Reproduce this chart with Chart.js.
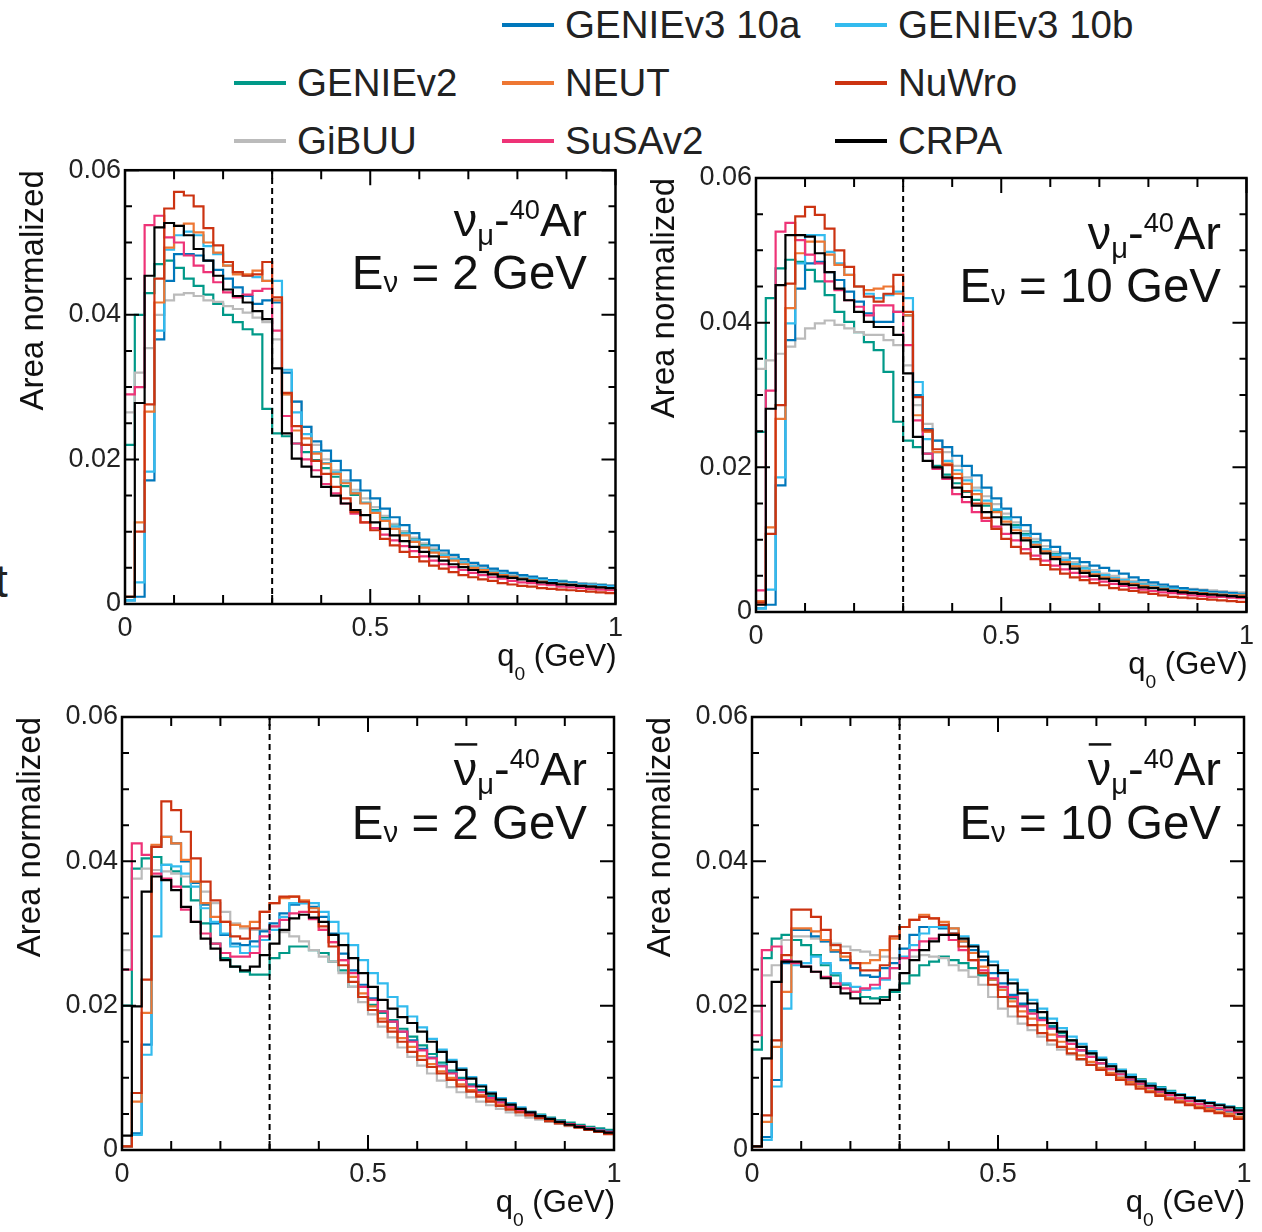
<!DOCTYPE html>
<html>
<head>
<meta charset="utf-8">
<script src="https://cdn.jsdelivr.net/npm/chart.js@4.4.1/dist/chart.umd.min.js"></script>
<style>
  body { margin: 0; background: #fff; width: 1262px; height: 1232px; position: relative; overflow: hidden;
         font-family: "Liberation Sans", Arial, sans-serif; }
  canvas { position: absolute; }
  .leg { position: absolute; height: 40px; display: flex; align-items: center; font-size: 38.5px; color: #222; white-space: nowrap; }
  .leg i { display: block; width: 52px; height: 4px; margin-right: 11px; }
  .cut { position: absolute; left: -5px; top: 558px; font-size: 46px; line-height: 1; color: #222; }
</style>
</head>
<body>
<div id="legend"></div>
<div class="cut">t</div>
<canvas id="c1" width="631" height="540" style="left:0;top:150px"></canvas>
<canvas id="c2" width="631" height="540" style="left:631px;top:150px"></canvas>
<canvas id="c3" width="631" height="542" style="left:0;top:690px"></canvas>
<canvas id="c4" width="631" height="542" style="left:631px;top:690px"></canvas>
<script>
// bin edges of q0 (GeV), 50 bins
const binEdges = [0, 0.02, 0.04, 0.06, 0.08, 0.1, 0.12, 0.14, 0.16, 0.18, 0.2, 0.22, 0.24, 0.26, 0.28, 0.3,
  0.32, 0.34, 0.36, 0.38, 0.4, 0.42, 0.44, 0.46, 0.48, 0.5, 0.52, 0.54, 0.56, 0.58, 0.6, 0.62, 0.64, 0.66,
  0.68, 0.7, 0.72, 0.74, 0.76, 0.78, 0.8, 0.82, 0.84, 0.86, 0.88, 0.9, 0.92, 0.94, 0.96, 0.98, 1];
const yTickLabels = [0, 0.02, 0.04, 0.06];
const xTickLabels = [0, 0.5, 1];
const yMinorTicks = [0, 0.005, 0.01, 0.015, 0.02, 0.025, 0.03, 0.035, 0.04, 0.045, 0.05, 0.055, 0.06];
const xMinorTicks = [0, 0.1, 0.2, 0.3, 0.4, 0.5, 0.6, 0.7, 0.8, 0.9, 1];
const qCut = 0.3;

// drawing order: first one ends up on top
const seriesNames = ['CRPA', 'NuWro', 'SuSAv2', 'NEUT', 'GENIEv3 10b', 'GENIEv3 10a', 'GiBUU', 'GENIEv2'];
const seriesColors = ['#000000', '#CC3311', '#EE3377', '#EE7733', '#33BBEE', '#0077BB', '#BBBBBB', '#009988'];

// nu_mu - 40Ar, E = 2 GeV
const nu2_CRPA = [0.0010, 0.0278, 0.0454, 0.0521, 0.0527, 0.0523, 0.0510, 0.0491, 0.0475, 0.0454, 0.0435, 0.0426, 0.0417, 0.0405, 0.0394, 0.0326, 0.0236, 0.0201, 0.0190, 0.0176, 0.0162, 0.0150, 0.0139, 0.0130,
  0.0123, 0.0113, 0.0104, 0.0095, 0.0087, 0.0079, 0.0072, 0.0066, 0.0060, 0.0055, 0.0051, 0.0047, 0.0044, 0.0041, 0.0038, 0.0036, 0.0034, 0.0032, 0.0030, 0.0029, 0.0027, 0.0026, 0.0025, 0.0024, 0.0023, 0.0022];
const nu2_NuWro = [0.0010, 0.0100, 0.0276, 0.0450, 0.0547, 0.0570, 0.0565, 0.0550, 0.0520, 0.0496, 0.0473, 0.0459, 0.0454, 0.0456, 0.0473, 0.0424, 0.0292, 0.0246, 0.0220, 0.0198, 0.0180, 0.0162, 0.0146, 0.0127,
  0.0113, 0.0102, 0.0090, 0.0081, 0.0072, 0.0065, 0.0059, 0.0053, 0.0049, 0.0044, 0.0040, 0.0037, 0.0034, 0.0032, 0.0029, 0.0027, 0.0025, 0.0024, 0.0022, 0.0021, 0.0020, 0.0019, 0.0018, 0.0017, 0.0016, 0.0015];
const nu2_SuSAv2 = [0.0290, 0.0300, 0.0524, 0.0537, 0.0507, 0.0500, 0.0482, 0.0468, 0.0459, 0.0445, 0.0431, 0.0424, 0.0428, 0.0433, 0.0436, 0.0378, 0.0260, 0.0222, 0.0200, 0.0185, 0.0166, 0.0153, 0.0139, 0.0125,
  0.0113, 0.0105, 0.0096, 0.0088, 0.0080, 0.0073, 0.0066, 0.0060, 0.0055, 0.0051, 0.0047, 0.0043, 0.0040, 0.0037, 0.0035, 0.0032, 0.0030, 0.0029, 0.0027, 0.0026, 0.0024, 0.0023, 0.0022, 0.0021, 0.0020, 0.0019];
const nu2_NEUT = [0.0010, 0.0113, 0.0266, 0.0417, 0.0493, 0.0523, 0.0526, 0.0514, 0.0500, 0.0486, 0.0468, 0.0456, 0.0456, 0.0461, 0.0447, 0.0420, 0.0290, 0.0240, 0.0229, 0.0208, 0.0194, 0.0180, 0.0167, 0.0153,
  0.0139, 0.0126, 0.0115, 0.0104, 0.0095, 0.0086, 0.0078, 0.0071, 0.0065, 0.0060, 0.0055, 0.0050, 0.0047, 0.0043, 0.0040, 0.0038, 0.0035, 0.0033, 0.0031, 0.0029, 0.0028, 0.0027, 0.0025, 0.0024, 0.0023, 0.0022];
const nu2_G3b = [0.0005, 0.0030, 0.0183, 0.0378, 0.0490, 0.0510, 0.0515, 0.0510, 0.0495, 0.0484, 0.0468, 0.0459, 0.0454, 0.0452, 0.0447, 0.0447, 0.0324, 0.0265, 0.0235, 0.0210, 0.0195, 0.0182, 0.0168, 0.0154,
  0.0140, 0.0128, 0.0117, 0.0107, 0.0097, 0.0088, 0.0080, 0.0073, 0.0067, 0.0062, 0.0057, 0.0052, 0.0048, 0.0045, 0.0042, 0.0039, 0.0037, 0.0035, 0.0033, 0.0031, 0.0029, 0.0028, 0.0027, 0.0026, 0.0025, 0.0024];
const nu2_G3a = [0.0005, 0.0010, 0.0171, 0.0366, 0.0447, 0.0484, 0.0484, 0.0482, 0.0475, 0.0462, 0.0450, 0.0438, 0.0426, 0.0415, 0.0420, 0.0417, 0.0320, 0.0280, 0.0245, 0.0225, 0.0212, 0.0198, 0.0185, 0.0171,
  0.0157, 0.0146, 0.0132, 0.0120, 0.0109, 0.0098, 0.0089, 0.0081, 0.0074, 0.0068, 0.0062, 0.0057, 0.0053, 0.0049, 0.0046, 0.0043, 0.0040, 0.0038, 0.0035, 0.0033, 0.0031, 0.0030, 0.0028, 0.0027, 0.0026, 0.0025];
const nu2_GiBUU = [0.0265, 0.0320, 0.0354, 0.0400, 0.0420, 0.0428, 0.0430, 0.0426, 0.0420, 0.0418, 0.0412, 0.0408, 0.0403, 0.0396, 0.0390, 0.0366, 0.0290, 0.0280, 0.0245, 0.0220, 0.0200, 0.0185, 0.0171, 0.0158,
  0.0146, 0.0134, 0.0122, 0.0111, 0.0101, 0.0092, 0.0084, 0.0077, 0.0071, 0.0065, 0.0060, 0.0055, 0.0051, 0.0047, 0.0044, 0.0041, 0.0039, 0.0037, 0.0035, 0.0033, 0.0031, 0.0030, 0.0029, 0.0028, 0.0027, 0.0026];
const nu2_G2 = [0.0220, 0.0400, 0.0430, 0.0470, 0.0475, 0.0465, 0.0450, 0.0440, 0.0428, 0.0415, 0.0400, 0.0390, 0.0380, 0.0373, 0.0270, 0.0236, 0.0232, 0.0222, 0.0210, 0.0199, 0.0188, 0.0176, 0.0163, 0.0151,
  0.0140, 0.0130, 0.0120, 0.0110, 0.0100, 0.0091, 0.0083, 0.0076, 0.0070, 0.0065, 0.0060, 0.0055, 0.0051, 0.0048, 0.0044, 0.0041, 0.0039, 0.0037, 0.0035, 0.0033, 0.0032, 0.0030, 0.0029, 0.0028, 0.0027, 0.0026];

// nu_mu - 40Ar, E = 10 GeV
const nu10_CRPA = [0.0010, 0.0281, 0.0452, 0.0521, 0.0521, 0.0519, 0.0496, 0.0470, 0.0447, 0.0431, 0.0415, 0.0401, 0.0394, 0.0394, 0.0383, 0.0330, 0.0242, 0.0209, 0.0200, 0.0186, 0.0172, 0.0159, 0.0147, 0.0138,
  0.0131, 0.0121, 0.0109, 0.0099, 0.0090, 0.0081, 0.0073, 0.0066, 0.0060, 0.0054, 0.0050, 0.0046, 0.0043, 0.0039, 0.0037, 0.0034, 0.0033, 0.0031, 0.0029, 0.0027, 0.0026, 0.0025, 0.0024, 0.0023, 0.0022, 0.0021];
const nu10_NuWro = [0.0013, 0.0108, 0.0286, 0.0454, 0.0547, 0.0560, 0.0549, 0.0530, 0.0500, 0.0477, 0.0450, 0.0436, 0.0429, 0.0440, 0.0466, 0.0415, 0.0297, 0.0251, 0.0225, 0.0203, 0.0185, 0.0167, 0.0150, 0.0130,
  0.0115, 0.0101, 0.0090, 0.0081, 0.0073, 0.0065, 0.0059, 0.0053, 0.0048, 0.0044, 0.0040, 0.0037, 0.0033, 0.0031, 0.0029, 0.0027, 0.0025, 0.0023, 0.0021, 0.0020, 0.0019, 0.0018, 0.0017, 0.0016, 0.0015, 0.0014];
const nu10_SuSAv2 = [0.0030, 0.0306, 0.0526, 0.0538, 0.0514, 0.0494, 0.0482, 0.0457, 0.0445, 0.0431, 0.0422, 0.0410, 0.0424, 0.0424, 0.0415, 0.0369, 0.0265, 0.0219, 0.0198, 0.0184, 0.0163, 0.0152, 0.0138, 0.0126,
  0.0118, 0.0108, 0.0099, 0.0087, 0.0078, 0.0071, 0.0064, 0.0059, 0.0054, 0.0049, 0.0045, 0.0042, 0.0039, 0.0036, 0.0033, 0.0031, 0.0029, 0.0027, 0.0026, 0.0025, 0.0023, 0.0022, 0.0021, 0.0021, 0.0020, 0.0019];
const nu10_NEUT = [0.0015, 0.0117, 0.0267, 0.0420, 0.0496, 0.0512, 0.0512, 0.0494, 0.0480, 0.0466, 0.0450, 0.0445, 0.0447, 0.0450, 0.0440, 0.0410, 0.0272, 0.0249, 0.0221, 0.0205, 0.0191, 0.0177, 0.0163, 0.0150,
  0.0138, 0.0125, 0.0113, 0.0102, 0.0093, 0.0084, 0.0076, 0.0069, 0.0063, 0.0057, 0.0052, 0.0048, 0.0045, 0.0042, 0.0039, 0.0036, 0.0034, 0.0032, 0.0030, 0.0029, 0.0027, 0.0026, 0.0025, 0.0024, 0.0023, 0.0023];
const nu10_G3b = [0.0005, 0.0031, 0.0186, 0.0399, 0.0482, 0.0521, 0.0521, 0.0498, 0.0482, 0.0466, 0.0450, 0.0440, 0.0434, 0.0438, 0.0443, 0.0434, 0.0318, 0.0239, 0.0221, 0.0209, 0.0196, 0.0182, 0.0168, 0.0154,
  0.0142, 0.0129, 0.0117, 0.0106, 0.0096, 0.0087, 0.0079, 0.0072, 0.0066, 0.0060, 0.0055, 0.0051, 0.0047, 0.0044, 0.0041, 0.0038, 0.0036, 0.0034, 0.0032, 0.0030, 0.0029, 0.0027, 0.0026, 0.0025, 0.0024, 0.0024];
const nu10_G3a = [0.0005, 0.0010, 0.0175, 0.0376, 0.0447, 0.0482, 0.0484, 0.0470, 0.0459, 0.0443, 0.0429, 0.0413, 0.0401, 0.0401, 0.0415, 0.0410, 0.0300, 0.0253, 0.0237, 0.0228, 0.0216, 0.0202, 0.0189, 0.0172,
  0.0157, 0.0143, 0.0131, 0.0120, 0.0108, 0.0099, 0.0090, 0.0081, 0.0074, 0.0069, 0.0064, 0.0061, 0.0057, 0.0053, 0.0048, 0.0044, 0.0041, 0.0038, 0.0035, 0.0033, 0.0031, 0.0030, 0.0028, 0.0027, 0.0026, 0.0025];
const nu10_GiBUU = [0.0336, 0.0348, 0.0357, 0.0367, 0.0378, 0.0392, 0.0399, 0.0403, 0.0397, 0.0392, 0.0387, 0.0383, 0.0383, 0.0376, 0.0369, 0.0341, 0.0286, 0.0260, 0.0237, 0.0221, 0.0202, 0.0186, 0.0172, 0.0160,
  0.0149, 0.0136, 0.0124, 0.0112, 0.0101, 0.0091, 0.0083, 0.0075, 0.0069, 0.0063, 0.0058, 0.0053, 0.0050, 0.0046, 0.0043, 0.0041, 0.0039, 0.0037, 0.0035, 0.0033, 0.0032, 0.0031, 0.0030, 0.0029, 0.0028, 0.0027];
const nu10_G2 = [0.0249, 0.0434, 0.0475, 0.0487, 0.0484, 0.0473, 0.0457, 0.0438, 0.0415, 0.0401, 0.0387, 0.0373, 0.0362, 0.0332, 0.0263, 0.0237, 0.0228, 0.0219, 0.0202, 0.0190, 0.0178, 0.0166, 0.0155, 0.0147,
  0.0140, 0.0131, 0.0120, 0.0108, 0.0097, 0.0087, 0.0080, 0.0072, 0.0066, 0.0061, 0.0056, 0.0051, 0.0048, 0.0045, 0.0042, 0.0040, 0.0038, 0.0036, 0.0034, 0.0033, 0.0031, 0.0030, 0.0029, 0.0028, 0.0027, 0.0026];

// anti nu_mu - 40Ar, E = 2 GeV
const anu2_CRPA = [0.0020, 0.0199, 0.0358, 0.0379, 0.0374, 0.0360, 0.0337, 0.0316, 0.0293, 0.0279, 0.0263, 0.0254, 0.0249, 0.0254, 0.0270, 0.0286, 0.0305, 0.0321, 0.0326, 0.0322, 0.0316, 0.0298, 0.0284, 0.0266,
  0.0245, 0.0226, 0.0208, 0.0196, 0.0184, 0.0176, 0.0164, 0.0150, 0.0136, 0.0122, 0.0111, 0.0099, 0.0088, 0.0078, 0.0070, 0.0063, 0.0057, 0.0052, 0.0047, 0.0043, 0.0039, 0.0035, 0.0032, 0.0029, 0.0026, 0.0024];
const anu2_NuWro = [0.0005, 0.0079, 0.0236, 0.0420, 0.0483, 0.0471, 0.0441, 0.0404, 0.0372, 0.0346, 0.0316, 0.0296, 0.0293, 0.0307, 0.0330, 0.0342, 0.0351, 0.0351, 0.0344, 0.0330, 0.0310, 0.0282, 0.0256, 0.0233,
  0.0212, 0.0194, 0.0178, 0.0164, 0.0150, 0.0136, 0.0125, 0.0115, 0.0106, 0.0097, 0.0088, 0.0081, 0.0074, 0.0067, 0.0061, 0.0056, 0.0052, 0.0048, 0.0044, 0.0040, 0.0037, 0.0034, 0.0031, 0.0028, 0.0025, 0.0022];
const anu2_SuSAv2 = [0.0250, 0.0425, 0.0409, 0.0383, 0.0376, 0.0365, 0.0333, 0.0316, 0.0300, 0.0286, 0.0273, 0.0268, 0.0268, 0.0273, 0.0296, 0.0310, 0.0319, 0.0328, 0.0330, 0.0320, 0.0305, 0.0288, 0.0263, 0.0245,
  0.0226, 0.0208, 0.0192, 0.0178, 0.0164, 0.0150, 0.0138, 0.0127, 0.0116, 0.0106, 0.0097, 0.0088, 0.0080, 0.0072, 0.0066, 0.0060, 0.0055, 0.0050, 0.0046, 0.0042, 0.0039, 0.0036, 0.0033, 0.0030, 0.0027, 0.0025];
const anu2_NEUT = [0.0005, 0.0067, 0.0190, 0.0423, 0.0434, 0.0425, 0.0402, 0.0372, 0.0342, 0.0323, 0.0316, 0.0312, 0.0310, 0.0316, 0.0330, 0.0342, 0.0349, 0.0351, 0.0346, 0.0335, 0.0305, 0.0288, 0.0263, 0.0240,
  0.0217, 0.0199, 0.0182, 0.0169, 0.0155, 0.0143, 0.0130, 0.0119, 0.0109, 0.0100, 0.0091, 0.0083, 0.0076, 0.0069, 0.0063, 0.0058, 0.0053, 0.0049, 0.0045, 0.0041, 0.0038, 0.0035, 0.0032, 0.0029, 0.0026, 0.0023];
const anu2_G3b = [0.0005, 0.0021, 0.0132, 0.0296, 0.0395, 0.0393, 0.0383, 0.0365, 0.0335, 0.0316, 0.0300, 0.0282, 0.0273, 0.0282, 0.0291, 0.0305, 0.0323, 0.0342, 0.0342, 0.0342, 0.0330, 0.0316, 0.0300, 0.0284,
  0.0263, 0.0245, 0.0231, 0.0212, 0.0199, 0.0185, 0.0170, 0.0154, 0.0139, 0.0125, 0.0113, 0.0101, 0.0090, 0.0080, 0.0072, 0.0065, 0.0059, 0.0053, 0.0048, 0.0044, 0.0040, 0.0036, 0.0033, 0.0030, 0.0027, 0.0025];
const anu2_G3a = [0.0005, 0.0023, 0.0146, 0.0420, 0.0434, 0.0425, 0.0400, 0.0370, 0.0340, 0.0314, 0.0298, 0.0286, 0.0284, 0.0289, 0.0303, 0.0314, 0.0328, 0.0340, 0.0342, 0.0337, 0.0323, 0.0300, 0.0272, 0.0249,
  0.0229, 0.0210, 0.0192, 0.0178, 0.0164, 0.0152, 0.0140, 0.0128, 0.0117, 0.0107, 0.0098, 0.0089, 0.0081, 0.0073, 0.0067, 0.0061, 0.0056, 0.0051, 0.0047, 0.0043, 0.0039, 0.0036, 0.0033, 0.0030, 0.0028, 0.0026];
const anu2_GiBUU = [0.0277, 0.0376, 0.0390, 0.0388, 0.0386, 0.0383, 0.0379, 0.0370, 0.0358, 0.0342, 0.0330, 0.0314, 0.0307, 0.0305, 0.0305, 0.0310, 0.0302, 0.0296, 0.0289, 0.0277, 0.0268, 0.0261, 0.0245, 0.0226,
  0.0205, 0.0188, 0.0171, 0.0156, 0.0142, 0.0129, 0.0117, 0.0106, 0.0096, 0.0087, 0.0080, 0.0073, 0.0067, 0.0062, 0.0057, 0.0052, 0.0048, 0.0045, 0.0042, 0.0039, 0.0036, 0.0033, 0.0031, 0.0029, 0.0026, 0.0024];
const anu2_G2 = [0.0200, 0.0390, 0.0404, 0.0406, 0.0395, 0.0386, 0.0365, 0.0346, 0.0314, 0.0286, 0.0266, 0.0254, 0.0247, 0.0243, 0.0243, 0.0266, 0.0273, 0.0282, 0.0282, 0.0277, 0.0273, 0.0261, 0.0249, 0.0226,
  0.0212, 0.0201, 0.0190, 0.0180, 0.0168, 0.0157, 0.0145, 0.0133, 0.0121, 0.0110, 0.0100, 0.0091, 0.0083, 0.0075, 0.0068, 0.0062, 0.0057, 0.0053, 0.0049, 0.0045, 0.0041, 0.0038, 0.0035, 0.0032, 0.0030, 0.0028];

// anti nu_mu - 40Ar, E = 10 GeV
const anu10_CRPA = [0.0005, 0.0127, 0.0233, 0.0261, 0.0261, 0.0254, 0.0247, 0.0238, 0.0226, 0.0217, 0.0210, 0.0203, 0.0203, 0.0208, 0.0222, 0.0245, 0.0263, 0.0277, 0.0289, 0.0298, 0.0298, 0.0293, 0.0282, 0.0268,
  0.0256, 0.0245, 0.0231, 0.0217, 0.0203, 0.0191, 0.0176, 0.0164, 0.0152, 0.0143, 0.0134, 0.0125, 0.0116, 0.0109, 0.0101, 0.0095, 0.0089, 0.0084, 0.0079, 0.0076, 0.0072, 0.0068, 0.0065, 0.0062, 0.0059, 0.0055];
const anu10_NuWro = [0.0005, 0.0048, 0.0152, 0.0270, 0.0333, 0.0333, 0.0323, 0.0305, 0.0284, 0.0273, 0.0259, 0.0249, 0.0249, 0.0256, 0.0296, 0.0309, 0.0319, 0.0323, 0.0321, 0.0312, 0.0300, 0.0282, 0.0263, 0.0245,
  0.0229, 0.0212, 0.0199, 0.0185, 0.0173, 0.0162, 0.0152, 0.0143, 0.0134, 0.0126, 0.0118, 0.0111, 0.0104, 0.0097, 0.0091, 0.0085, 0.0080, 0.0075, 0.0070, 0.0066, 0.0062, 0.0058, 0.0054, 0.0051, 0.0047, 0.0043];
const anu10_SuSAv2 = [0.0159, 0.0277, 0.0282, 0.0263, 0.0259, 0.0254, 0.0247, 0.0240, 0.0231, 0.0224, 0.0219, 0.0224, 0.0229, 0.0238, 0.0252, 0.0266, 0.0277, 0.0289, 0.0293, 0.0298, 0.0291, 0.0277, 0.0263, 0.0249,
  0.0238, 0.0226, 0.0212, 0.0199, 0.0189, 0.0180, 0.0168, 0.0157, 0.0147, 0.0138, 0.0129, 0.0120, 0.0112, 0.0105, 0.0098, 0.0092, 0.0086, 0.0081, 0.0076, 0.0072, 0.0068, 0.0064, 0.0061, 0.0058, 0.0055, 0.0052];
const anu10_NEUT = [0.0005, 0.0039, 0.0143, 0.0219, 0.0307, 0.0307, 0.0303, 0.0291, 0.0277, 0.0268, 0.0259, 0.0259, 0.0263, 0.0277, 0.0293, 0.0309, 0.0319, 0.0326, 0.0321, 0.0316, 0.0307, 0.0289, 0.0273, 0.0254,
  0.0236, 0.0222, 0.0206, 0.0192, 0.0182, 0.0173, 0.0160, 0.0150, 0.0140, 0.0131, 0.0122, 0.0114, 0.0107, 0.0100, 0.0094, 0.0088, 0.0082, 0.0077, 0.0072, 0.0068, 0.0064, 0.0060, 0.0057, 0.0053, 0.0050, 0.0046];
const anu10_G3b = [0.0005, 0.0014, 0.0088, 0.0196, 0.0256, 0.0259, 0.0268, 0.0259, 0.0245, 0.0231, 0.0226, 0.0222, 0.0224, 0.0236, 0.0252, 0.0268, 0.0284, 0.0300, 0.0309, 0.0309, 0.0307, 0.0296, 0.0284, 0.0275,
  0.0261, 0.0249, 0.0236, 0.0222, 0.0208, 0.0196, 0.0182, 0.0169, 0.0157, 0.0147, 0.0137, 0.0128, 0.0119, 0.0111, 0.0104, 0.0097, 0.0091, 0.0086, 0.0081, 0.0077, 0.0073, 0.0069, 0.0066, 0.0063, 0.0060, 0.0056];
const anu10_G3a = [0.0005, 0.0018, 0.0097, 0.0259, 0.0305, 0.0305, 0.0296, 0.0289, 0.0275, 0.0263, 0.0252, 0.0242, 0.0240, 0.0252, 0.0259, 0.0279, 0.0298, 0.0309, 0.0309, 0.0307, 0.0300, 0.0289, 0.0277, 0.0263,
  0.0245, 0.0231, 0.0215, 0.0203, 0.0194, 0.0182, 0.0170, 0.0158, 0.0147, 0.0138, 0.0129, 0.0120, 0.0112, 0.0105, 0.0098, 0.0092, 0.0086, 0.0081, 0.0076, 0.0072, 0.0068, 0.0064, 0.0060, 0.0057, 0.0054, 0.0051];
const anu10_GiBUU = [0.0192, 0.0242, 0.0256, 0.0291, 0.0296, 0.0296, 0.0293, 0.0289, 0.0286, 0.0282, 0.0277, 0.0275, 0.0270, 0.0268, 0.0266, 0.0266, 0.0268, 0.0270, 0.0268, 0.0266, 0.0256, 0.0249, 0.0240, 0.0229,
  0.0212, 0.0196, 0.0185, 0.0175, 0.0166, 0.0157, 0.0146, 0.0139, 0.0132, 0.0125, 0.0118, 0.0112, 0.0106, 0.0101, 0.0096, 0.0090, 0.0085, 0.0080, 0.0076, 0.0071, 0.0067, 0.0063, 0.0059, 0.0056, 0.0052, 0.0049];
const anu10_G2 = [0.0139, 0.0266, 0.0293, 0.0298, 0.0291, 0.0284, 0.0270, 0.0256, 0.0242, 0.0229, 0.0219, 0.0212, 0.0210, 0.0212, 0.0219, 0.0231, 0.0242, 0.0256, 0.0261, 0.0268, 0.0263, 0.0259, 0.0252, 0.0242,
  0.0236, 0.0222, 0.0210, 0.0201, 0.0192, 0.0183, 0.0172, 0.0162, 0.0152, 0.0143, 0.0134, 0.0126, 0.0118, 0.0111, 0.0104, 0.0098, 0.0092, 0.0087, 0.0082, 0.0077, 0.0073, 0.0069, 0.0066, 0.0063, 0.0060, 0.0058];

// legend rows: [name, line x, row centre y]
const legendItems = [
  ['GENIEv3 10a', 502, 25], ['GENIEv3 10b', 835, 25],
  ['GENIEv2', 234, 83], ['NEUT', 502, 83], ['NuWro', 835, 83],
  ['GiBUU', 234, 141], ['SuSAv2', 502, 141], ['CRPA', 835, 141]
];

const FONT = '"Liberation Sans", Arial, sans-serif';

const panels = [
  { id: 'c1', left: 0, top: 150, pad: { left: 0, top: 20, right: 14, bottom: 46 }, yw: 125, xh: 40,
    series: [nu2_CRPA, nu2_NuWro, nu2_SuSAv2, nu2_NEUT, nu2_G3b, nu2_G3a, nu2_GiBUU, nu2_G2],
    anti: false, energy: '2', textRight: 587, base1: 236, base2: 289 },
  { id: 'c2', left: 631, top: 150, pad: { left: 0, top: 28, right: 15, bottom: 38 }, yw: 125, xh: 40,
    series: [nu10_CRPA, nu10_NuWro, nu10_SuSAv2, nu10_NEUT, nu10_G3b, nu10_G3a, nu10_GiBUU, nu10_G2],
    anti: false, energy: '10', textRight: 1221, base1: 249, base2: 302 },
  { id: 'c3', left: 0, top: 690, pad: { left: 0, top: 27, right: 17, bottom: 42 }, yw: 122, xh: 40,
    series: [anu2_CRPA, anu2_NuWro, anu2_SuSAv2, anu2_NEUT, anu2_G3b, anu2_G3a, anu2_GiBUU, anu2_G2],
    anti: true, energy: '2', textRight: 587, base1: 785, base2: 839 },
  { id: 'c4', left: 631, top: 690, pad: { left: 0, top: 27, right: 18, bottom: 42 }, yw: 121, xh: 40,
    series: [anu10_CRPA, anu10_NuWro, anu10_SuSAv2, anu10_NEUT, anu10_G3b, anu10_G3a, anu10_GiBUU, anu10_G2],
    anti: true, energy: '10', textRight: 1221, base1: 785, base2: 839 }
];

// text with sub/superscripts, right aligned at xr
function drawRich(ctx, parts, xr, base, size) {
  let w = 0;
  parts.forEach(pt => {
    ctx.font = (size * (pt.s || 1)) + 'px ' + FONT;
    pt.w = ctx.measureText(pt.t).width;
    w += pt.w;
  });
  let cx = xr - w;
  parts.forEach(pt => {
    ctx.font = (size * (pt.s || 1)) + 'px ' + FONT;
    ctx.fillText(pt.t, cx, base + (pt.dy || 0) * size);
    if (pt.bar) ctx.fillRect(cx + 1, base - size * 0.89, pt.w - 1, 2.5);
    cx += pt.w;
  });
}

function makeChart(p) {
  const rootStyle = {
    id: 'rootStyle',
    afterDatasetsDraw(chart) {
      const { ctx, chartArea: a, scales: { x, y } } = chart;
      ctx.save();
      ctx.strokeStyle = '#000';
      ctx.fillStyle = '#111';

      // dashed line at the cut
      ctx.lineWidth = 2;
      ctx.setLineDash([6, 4]);
      const xc = x.getPixelForValue(qCut);
      ctx.beginPath();
      ctx.moveTo(xc, a.bottom);
      ctx.lineTo(xc, a.top);
      ctx.stroke();
      ctx.setLineDash([]);

      // ROOT style ticks, inside, on four sides
      ctx.beginPath();
      yMinorTicks.forEach(v => {
        const py = y.getPixelForValue(v);
        const len = yTickLabels.includes(v) ? 14 : 7;
        ctx.moveTo(a.left, py); ctx.lineTo(a.left + len, py);
        ctx.moveTo(a.right, py); ctx.lineTo(a.right - len, py);
      });
      xMinorTicks.forEach(v => {
        const px = x.getPixelForValue(v);
        const len = xTickLabels.includes(v) ? 15 : 9;
        ctx.moveTo(px, a.bottom); ctx.lineTo(px, a.bottom - len);
        ctx.moveTo(px, a.top); ctx.lineTo(px, a.top + len);
      });
      ctx.stroke();
      ctx.lineWidth = 2.5;
      ctx.strokeRect(a.left, a.top, a.width, a.height);

      // panel labels
      ctx.textAlign = 'left';
      ctx.textBaseline = 'alphabetic';
      const xr = p.textRight - p.left;
      drawRich(ctx, [{ t: 'ν', bar: p.anti }, { t: 'μ', s: 0.62, dy: 0.2 }, { t: '-' }, { t: '40', s: 0.58, dy: -0.37 }, { t: 'Ar' }],
        xr, p.base1 - p.top, 47);
      drawRich(ctx, [{ t: 'E' }, { t: 'ν', s: 0.62, dy: 0.06 }, { t: ' = ' + p.energy + ' GeV' }],
        xr, p.base2 - p.top, 47.5);

      // axis titles
      drawRich(ctx, [{ t: 'q' }, { t: '0', s: 0.62, dy: 0.45 }, { t: ' (GeV)' }], a.right + 1, a.bottom + 62, 31);
      ctx.save();
      ctx.translate(a.left - 82, a.top);
      ctx.rotate(-Math.PI / 2);
      ctx.font = '33px ' + FONT;
      ctx.textAlign = 'right';
      ctx.fillText('Area normalized', 0, 0);
      ctx.restore();
      ctx.restore();
    }
  };

  const tickFont = { family: FONT, size: 27 };
  return new Chart(document.getElementById(p.id), {
    type: 'line',
    data: {
      datasets: p.series.map((vals, k) => ({
        label: seriesNames[k],
        data: binEdges.map((e, i) => ({ x: e, y: vals[Math.min(i, vals.length - 1)] })),
        borderColor: seriesColors[k],
        borderWidth: 2.2,
        stepped: 'before',
        pointRadius: 0,
        fill: false
      }))
    },
    options: {
      responsive: false,
      animation: false,
      devicePixelRatio: 1,
      layout: { padding: p.pad },
      plugins: { legend: { display: false }, tooltip: { enabled: false } },
      scales: {
        x: {
          type: 'linear', min: 0, max: 1,
          grid: { display: false, drawTicks: false }, border: { display: false },
          afterBuildTicks: s => { s.ticks = xTickLabels.map(v => ({ value: v })); },
          afterFit: s => { s.height = p.xh; },
          ticks: { font: tickFont, color: '#222', padding: 8, maxRotation: 0, autoSkip: false,
                   callback: v => String(v) }
        },
        y: {
          type: 'linear', min: 0, max: 0.06,
          grid: { display: false, drawTicks: false }, border: { display: false },
          afterBuildTicks: s => { s.ticks = yTickLabels.map(v => ({ value: v })); },
          afterFit: s => { s.width = p.yw; },
          ticks: { font: tickFont, color: '#222', padding: 4, autoSkip: false,
                   callback: v => (v === 0 ? '0' : v.toFixed(2)) }
        }
      }
    },
    plugins: [rootStyle]
  });
}

// legend
const legend = document.getElementById('legend');
legendItems.forEach(([name, lx, ly]) => {
  const d = document.createElement('div');
  d.className = 'leg';
  d.style.left = lx + 'px';
  d.style.top = (ly - 20) + 'px';
  const line = document.createElement('i');
  line.style.background = seriesColors[seriesNames.indexOf(name)];
  d.appendChild(line);
  d.appendChild(document.createTextNode(name));
  legend.appendChild(d);
});

panels.forEach(makeChart);
</script>
</body>
</html>
